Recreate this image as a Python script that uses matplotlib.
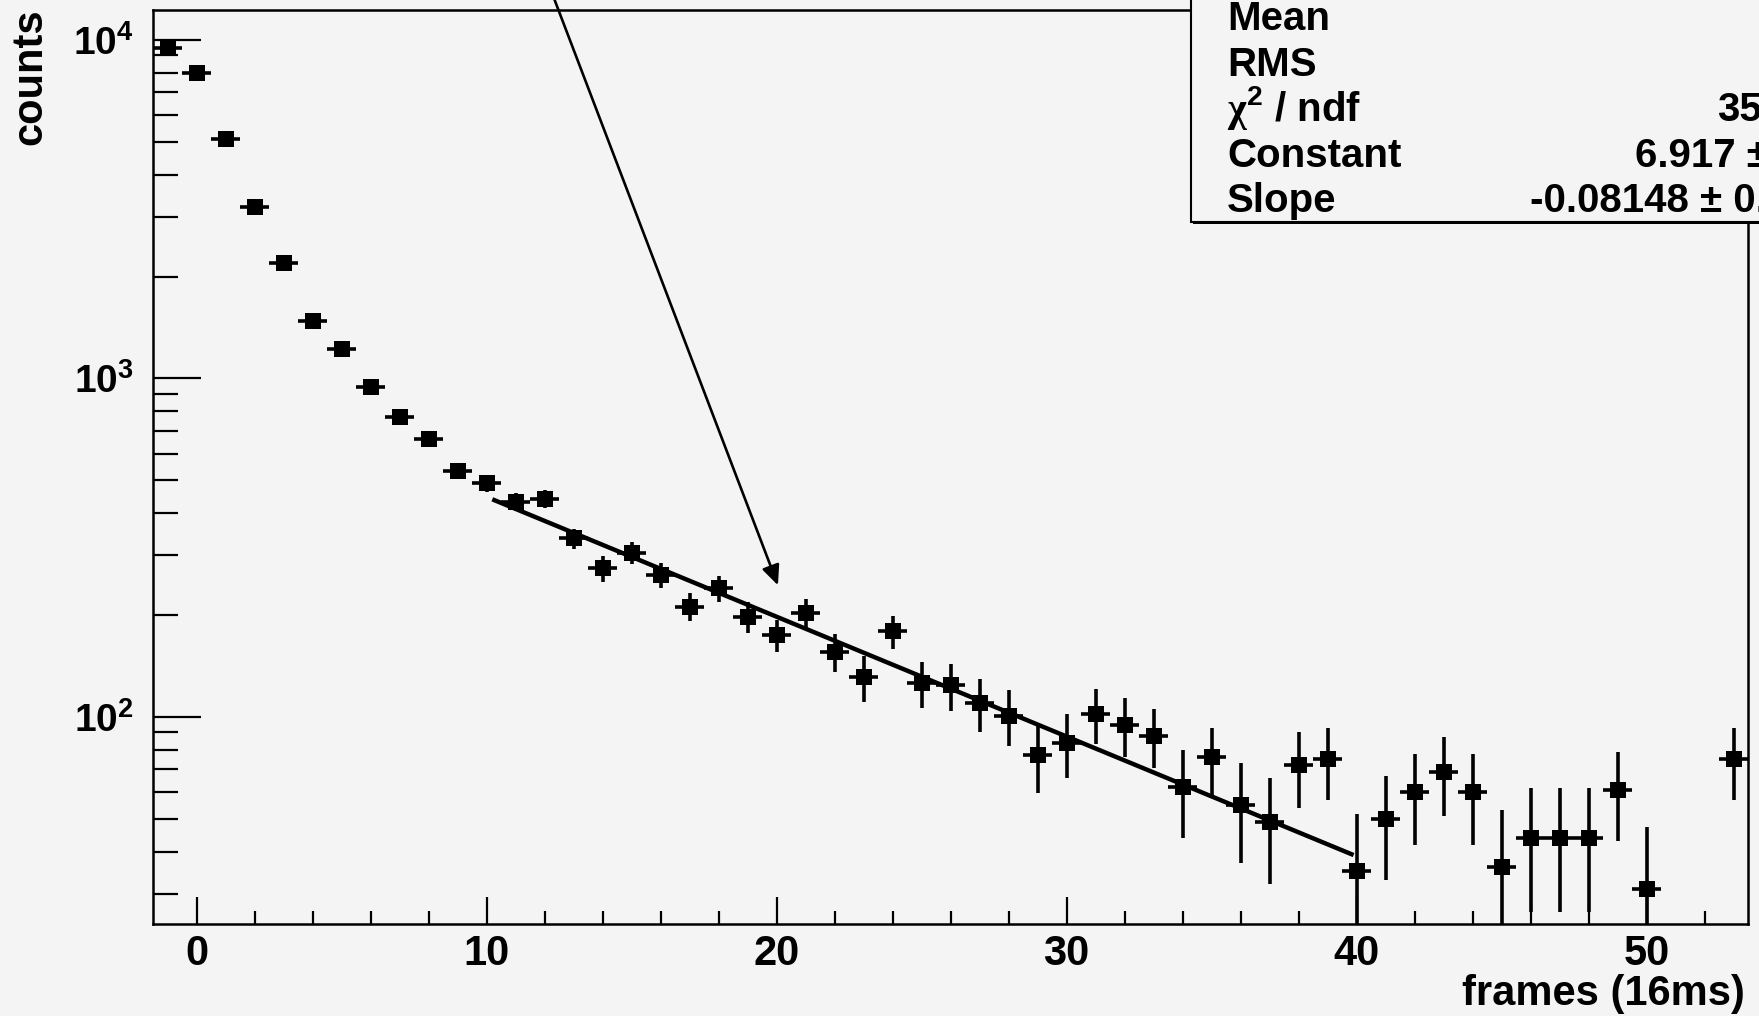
import numpy as np
import matplotlib
matplotlib.use('Agg')
import matplotlib.pyplot as plt
from matplotlib.ticker import FixedLocator, MultipleLocator, LogLocator, NullFormatter, FuncFormatter
from matplotlib.patches import Rectangle

plt.rcParams['font.family'] = ['Liberation Sans', 'DejaVu Sans']
plt.rcParams['font.weight'] = 'bold'
plt.rcParams['mathtext.fontset'] = 'custom'
plt.rcParams['mathtext.rm'] = 'Liberation Serif'
plt.rcParams['mathtext.bf'] = 'Liberation Sans:bold'
plt.rcParams['mathtext.it'] = 'Liberation Sans:italic'

# histogram bins (frame number) and background-subtracted counts
frames = np.arange(-1, 54)
counts = np.array([9450, 7970, 5090, 3220, 2190, 1480, 1222, 946, 771, 661,
                   532, 490, 433, 440, 337, 275, 306, 263, 212, 240,
                   198, 175, 203, 156, 131, 179, 126, 124, 110, 101,
                   77, 84, 102, 95, 88, 62, 76, 55, 49, 72,
                   75, 35, 50, 60, 69, 60, 36, 44, 44, 44,
                   61, 31, 0, 0, 75], dtype=float)
errors = np.array([99, 91, 73, 59, 50, 42, 39, 35, 33, 31,
                   29, 28, 27, 27, 23, 24, 23, 22, 20.5, 21.5,
                   21, 19, 20, 20, 20, 20, 19.5, 19.5, 19.5, 19,
                   17.5, 18, 19, 19, 17.5, 18, 17, 18, 17, 18,
                   18, 16.7, 17, 18, 18, 18, 17, 17.5, 17.5, 17.5,
                   18, 16.3, 0, 0, 18])

# exponential fit: exp(Constant + Slope * x)
fit_const = 6.917
fit_slope = -0.08148
fit_range = (10.2, 39.9)

y_major = [1e2, 1e3, 1e4]

stat_names = ['Mean', 'RMS', r'$\mathrm{\chi}^{\mathbf{2}}$ / ndf', 'Constant', 'Slope']
stat_values = ['', '', '35', '6.917 \u00b1', '-0.08148 \u00b1 0.']
stat_value_x = [None, None, 1717, 1635, 1530]

W, H = 1759, 1016
bg = '#f4f4f4'

fig = plt.figure(figsize=(W / 100, H / 100), dpi=100, facecolor=bg)
ax = fig.add_axes([153 / W, 1 - 924 / H, (1748 - 153) / W, (924 - 10) / H])
ax.set_facecolor(bg)

ok = counts > 0
ax.errorbar(frames[ok], counts[ok], xerr=0.5, yerr=errors[ok], fmt='s',
            color='black', ms=11, mew=0, elinewidth=2.6, capsize=0, zorder=2)

xf = np.linspace(fit_range[0], fit_range[1], 300)
ax.plot(xf, np.exp(fit_const + fit_slope * xf), color='black', lw=3.2,
        solid_capstyle='butt', zorder=3)

ax.set_yscale('log')
ax.set_xlim(-1.5, 53.5)
ax.set_ylim(24.46, 12260)

ax.xaxis.set_major_locator(MultipleLocator(10))
ax.xaxis.set_minor_locator(MultipleLocator(2))
ax.yaxis.set_major_locator(FixedLocator(y_major))
ax.yaxis.set_minor_locator(LogLocator(base=10, subs=np.arange(2, 10), numticks=20))
ax.yaxis.set_minor_formatter(NullFormatter())
ax.yaxis.set_major_formatter(FuncFormatter(lambda v, p: r'$\mathbf{10^{%d}}$' % round(np.log10(v))))

ax.tick_params(axis='x', which='major', direction='in', length=19.5, width=1.6, pad=7, labelsize=30)
ax.tick_params(axis='x', which='minor', direction='in', length=9.5, width=1.6)
ax.tick_params(axis='y', which='major', direction='in', length=34.5, width=1.6, pad=14, labelsize=28)
ax.tick_params(axis='y', which='minor', direction='in', length=18, width=1.6)
for s in ax.spines.values():
    s.set_linewidth(1.8)

fig.text(1745 / W, 1 - 1005 / H, 'frames (16ms)', ha='right', va='baseline', fontsize=30)
fig.text(30 / W, 1 - 8 / H, 'counts', rotation=90, ha='center', va='top', fontsize=30)

# arrow pointing at the fitted slope
ax.annotate('', xy=(20.05, 245), xycoords='data',
            xytext=(547 / W, 1 + 20 / H), textcoords='figure fraction',
            arrowprops=dict(arrowstyle='-|>,head_length=0.6,head_width=0.27',
                            mutation_scale=20, color='black', lw=1.9,
                            shrinkA=0, shrinkB=0),
            annotation_clip=False, zorder=4)

# stats box in the upper right corner, drawn on top of the frame
tf = fig.transFigure
shadow = Rectangle((1193 / W, 1 - 224 / H), (W + 40 - 1193) / W, 260 / H,
                   transform=tf, facecolor='black', edgecolor='none',
                   zorder=10, clip_on=False)
box = Rectangle((1191 / W, 1 - 222 / H), (W + 40 - 1191) / W, 260 / H,
                transform=tf, facecolor=bg, edgecolor='black', lw=1.5,
                zorder=11, clip_on=False)
ax.add_patch(shadow)
ax.add_patch(box)

baselines = [30, 75.5, 121, 167, 212]
for name, val, vx, b in zip(stat_names, stat_values, stat_value_x, baselines):
    ax.text(1227 / W, 1 - b / H, name, transform=tf, fontsize=29,
            va='baseline', zorder=12, clip_on=False)
    if val:
        ax.text(vx / W, 1 - b / H, val, transform=tf, fontsize=29,
                va='baseline', zorder=12, clip_on=False)

fig.savefig('out.png', dpi=100, facecolor=bg)
